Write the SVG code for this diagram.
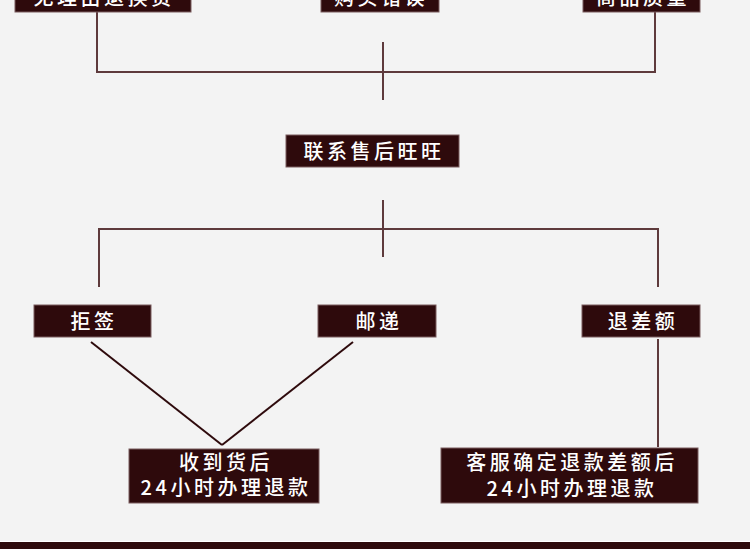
<svg xmlns="http://www.w3.org/2000/svg" width="750" height="549" viewBox="0 0 750 549">
<style>
.box{fill:#2e0a0c;stroke:#7a5c5e;stroke-width:1}
.t{fill:#ffffff;font-family:"Noto Sans CJK SC","Noto Sans",sans-serif;font-size:20px;font-weight:500;text-anchor:middle;letter-spacing:3.5px}
.ln{stroke:#5e3a3c;stroke-width:2;fill:none}
.dl{stroke:#2e0a0c;stroke-width:2;fill:none}
</style>
<rect width="750" height="549" fill="#f3f3f3"/>
<g id="connectors">
<polyline class="ln" points="97,12 97,72 655,72 655,12"/>
<line class="ln" x1="383" y1="42" x2="383" y2="100"/>
<line class="ln" x1="383" y1="200" x2="383" y2="257"/>
<polyline class="ln" points="99,287 99,229 658,229 658,287"/>
<line class="dl" x1="91" y1="342" x2="222" y2="445"/>
<line class="dl" x1="353" y1="342" x2="222" y2="445"/>
<line class="ln" x1="658" y1="339" x2="658" y2="447"/>
</g>
<g id="n1"><rect class="box" x="15" y="-20" width="176" height="32"/><text class="t" x="104" y="5">无理由退换货</text></g>
<g id="n2"><rect class="box" x="321" y="-20" width="118" height="32"/><text class="t" x="381" y="5">购买错误</text></g>
<g id="n3"><rect class="box" x="583" y="-20" width="117" height="32"/><text class="t" x="643" y="5">商品质量</text></g>
<g id="n4"><rect class="box" x="286" y="135" width="173" height="32"/><text class="t" x="374" y="159">联系售后旺旺</text></g>
<g id="n5"><rect class="box" x="34" y="305" width="117" height="32"/><text class="t" x="94" y="329">拒签</text></g>
<g id="n6"><rect class="box" x="318" y="305" width="118" height="32"/><text class="t" x="379" y="329">邮递</text></g>
<g id="n7"><rect class="box" x="582" y="305" width="118" height="32"/><text class="t" x="643" y="329">退差额</text></g>
<g id="n8"><rect class="box" x="129" y="449" width="190" height="54"/><text class="t" x="226" y="470">收到货后</text><text class="t" x="226" y="495">24小时办理退款</text></g>
<g id="n9"><rect class="box" x="441" y="448" width="257" height="55"/><text class="t" x="572" y="470">客服确定退款差额后</text><text class="t" x="572" y="496">24小时办理退款</text></g>
<rect x="0" y="541" width="750" height="1" fill="#ffffff"/>
<rect x="0" y="542" width="750" height="7" fill="#2e0a0c"/>
</svg>
